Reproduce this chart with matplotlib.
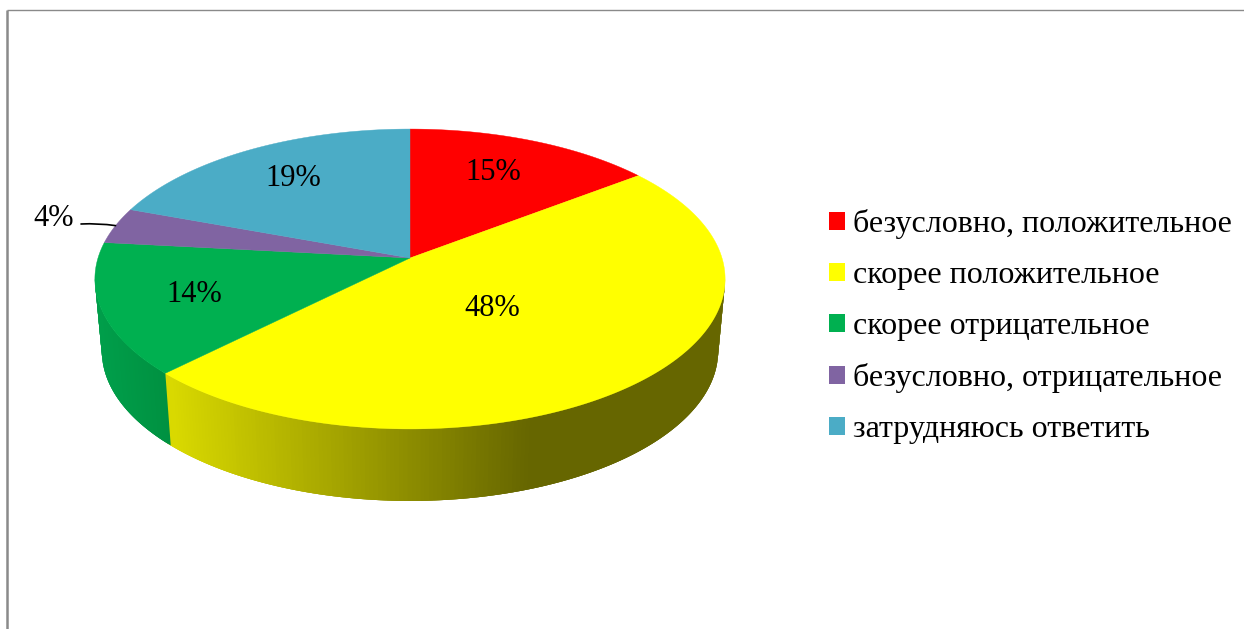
import numpy as np
import matplotlib
matplotlib.use("Agg")
import matplotlib.pyplot as plt
from matplotlib.patches import Patch

categories = ["безусловно, положительное", "скорее положительное", "скорее отрицательное",
              "безусловно, отрицательное", "затрудняюсь ответить"]
values = [14.6, 47.9, 14.2, 3.9, 19.4]
colors = ["#FF0000", "#FFFF00", "#00B050", "#8064A2", "#4BACC6"]
label_pos = [(493, 173), (492, 308), (194, 295), (54, 219), (293, 179)]

plt.rcParams["font.family"] = ["Liberation Serif", "DejaVu Serif"]
fig = plt.figure(figsize=(12.44, 6.29), dpi=100)
ax = fig.add_axes([0, 0, 1, 1])
ax.set_xlim(0, 1244)
ax.set_ylim(629, 0)
ax.axis("off")

# perspective projection of the pie disc
CX, CY, B, A, K, DEPTH, SHRINK = 410, 258, 312, 147, 0.14, 72, 0.978


def top(t):
    d = 1 + K * np.cos(t)
    return CX + B * np.sin(t) / d, CY - A * np.cos(t) / d


def bottom(t):
    x, y = top(t)
    return CX + (x - CX) * SHRINK, y + DEPTH


edges = 2 * np.pi * np.concatenate([[0], np.cumsum(values)]) / sum(values)


def wall_color(i, x):
    if i == 1:
        f = np.clip((x - 171) / (530 - 171), 0, 1)
        c = (0xD9 + (0x66 - 0xD9) * f) / 255
        return (c, c, 0)
    if i == 2:
        f = np.clip((x - 100) / 70, 0, 1)
        return (0, (0x9E + (0x90 - 0x9E) * f) / 255, (0x4A + (0x40 - 0x4A) * f) / 255)
    return colors[i]


# side wall: each strip overlaps the next one so no seams show
t_min, t_max = np.radians(98), np.radians(262)
ts = np.linspace(t_min, t_max, 240)
step = ts[1] - ts[0]
for a in ts[:-1]:
    i = int(np.searchsorted(edges, a + step / 2) - 1)
    ta = np.array([a, min(a + 3 * step, t_max)])
    xt, yt = top(ta)
    xb, yb = bottom(ta[::-1])
    ax.fill(np.r_[xt, xb], np.r_[yt, yb], facecolor=wall_color(i, top(a + step / 2)[0]),
            edgecolor="none", lw=0, zorder=1)

# top face
for i in range(len(values)):
    t = np.linspace(edges[i], edges[i + 1], 200)
    x, y = top(t)
    ax.fill(np.r_[CX, x], np.r_[CY, y], color=colors[i], lw=0.3, zorder=2)

# percentage labels
for i, (v, (lx, ly)) in enumerate(zip(values, label_pos)):
    ax.text(lx, ly, f"{v:.0f}%", fontsize=22, ha="center", va="center", color="black", zorder=3)

# leader line for the small slice
mid4 = (edges[3] + edges[4]) / 2
ax.annotate("", xy=top(mid4), xytext=(81, 224),
            arrowprops=dict(arrowstyle="-", color="black", lw=1.2, shrinkA=0, shrinkB=0,
                            connectionstyle="arc3,rad=-0.05"), zorder=3)

# legend
handles = [Patch(facecolor=c, edgecolor="none") for c in colors]
ax.legend(handles, categories, loc="upper left", bbox_to_anchor=(829, 209),
          bbox_transform=ax.transData, frameon=False, fontsize=23,
          handlelength=0.5, handleheight=0.5, handletextpad=0.25,
          labelspacing=0.69, borderpad=0, borderaxespad=0)

# picture frame
ax.plot([7, 7], [9.5, 629], color="#8a8a8a", lw=1.8, zorder=4, solid_capstyle="butt")
ax.plot([7, 1244], [9.5, 9.5], color="#8a8a8a", lw=1.0, zorder=4, solid_capstyle="butt")

fig.savefig("out.png", dpi=100, facecolor="white")
